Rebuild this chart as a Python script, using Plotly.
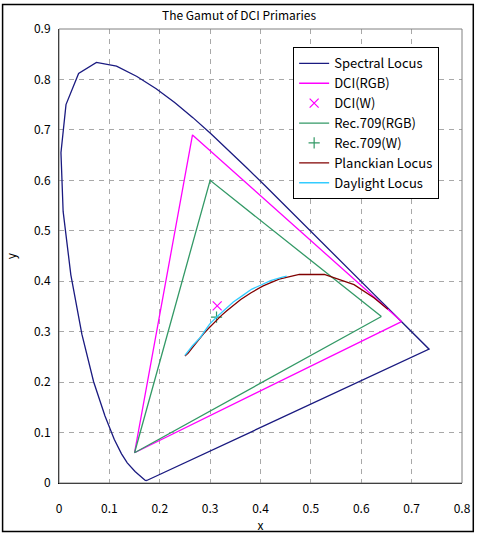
import plotly.graph_objects as go

# ---- Data ----
spectral_x = [0.1741, 0.1740, 0.1738, 0.1736, 0.1733, 0.1730, 0.1726, 0.1721, 0.1714, 0.1703,
              0.1689, 0.1669, 0.1644, 0.1611, 0.1566, 0.1510, 0.1440, 0.1355, 0.1241, 0.1096,
              0.0913, 0.0687, 0.0454, 0.0235, 0.0082, 0.0039, 0.0139, 0.0389, 0.0743, 0.1142,
              0.1547, 0.1929, 0.2296, 0.2658, 0.3016, 0.3373, 0.3731, 0.4087, 0.4441, 0.4788,
              0.5125, 0.5448, 0.5752, 0.6029, 0.6270, 0.6482, 0.6658, 0.6801, 0.6915, 0.7006,
              0.7079, 0.7140, 0.7190, 0.7230, 0.7260, 0.7283, 0.7300, 0.7311, 0.7320, 0.7327,
              0.7334, 0.7340, 0.7344, 0.7346, 0.7347, 0.1741]
spectral_y = [0.0050, 0.0050, 0.0049, 0.0049, 0.0048, 0.0048, 0.0048, 0.0048, 0.0051, 0.0058,
              0.0069, 0.0086, 0.0109, 0.0138, 0.0177, 0.0227, 0.0297, 0.0399, 0.0578, 0.0868,
              0.1327, 0.2007, 0.2950, 0.4127, 0.5384, 0.6548, 0.7502, 0.8120, 0.8338, 0.8262,
              0.8059, 0.7816, 0.7543, 0.7243, 0.6923, 0.6589, 0.6245, 0.5896, 0.5547, 0.5202,
              0.4866, 0.4544, 0.4242, 0.3965, 0.3725, 0.3514, 0.3340, 0.3197, 0.3083, 0.2993,
              0.2920, 0.2859, 0.2809, 0.2770, 0.2740, 0.2717, 0.2700, 0.2689, 0.2680, 0.2673,
              0.2666, 0.2660, 0.2656, 0.2654, 0.2653, 0.0050]

dci_x = [0.680, 0.265, 0.150, 0.680]
dci_y = [0.320, 0.690, 0.060, 0.320]
dci_w_x = [0.314]
dci_w_y = [0.351]

rec709_x = [0.640, 0.300, 0.150, 0.640]
rec709_y = [0.330, 0.600, 0.060, 0.330]
rec709_w_x = [0.3127]
rec709_w_y = [0.3290]

planck_x = [0.2500, 0.2565, 0.2637, 0.2719, 0.2807, 0.2869, 0.2952, 0.3064, 0.3135, 0.3221,
            0.3325, 0.3451, 0.3608, 0.3805, 0.4053, 0.4369, 0.4770, 0.5267, 0.5857, 0.6251, 0.6528]
planck_y = [0.2520, 0.2574, 0.2671, 0.2778, 0.2884, 0.2956, 0.3048, 0.3166, 0.3237, 0.3318,
            0.3411, 0.3516, 0.3636, 0.3768, 0.3907, 0.4041, 0.4137, 0.4133, 0.3931, 0.3674, 0.3444]

daylight_x = [0.250, 0.265, 0.280, 0.299, 0.313, 0.333, 0.346, 0.365, 0.382, 0.400, 0.420, 0.440, 0.452]
daylight_y = [0.253, 0.272, 0.288, 0.315, 0.329, 0.348, 0.359, 0.372, 0.384, 0.392, 0.401, 0.407, 0.410]

x_ticks = [0, 0.1, 0.2, 0.3, 0.4, 0.5, 0.6, 0.7, 0.8]
x_labels = ["0", "0.1", "0.2", "0.3", "0.4", "0.5", "0.6", "0.7", "0.8"]
y_ticks = [0, 0.1, 0.2, 0.3, 0.4, 0.5, 0.6, 0.7, 0.8, 0.9]
y_labels = ["0", "0.1", "0.2", "0.3", "0.4", "0.5", "0.6", "0.7", "0.8", "0.9"]

FONT = "Noto Sans CJK JP, Liberation Sans, sans-serif"
CLEAR = "rgba(0,0,0,0)"

fig = go.Figure()
fig.add_trace(go.Scatter(x=spectral_x, y=spectral_y, mode="lines", name="Spectral Locus",
                         line=dict(color="#1a1a80", width=1.3)))
fig.add_trace(go.Scatter(x=dci_x, y=dci_y, mode="lines", name="DCI(RGB)",
                         line=dict(color="#ff00ff", width=1.3)))
fig.add_trace(go.Scatter(x=dci_w_x, y=dci_w_y, mode="markers", name="DCI(W)",
                         marker=dict(symbol="x-thin", size=9, color="#ff00ff",
                                     line=dict(color="#ff00ff", width=1.2))))
fig.add_trace(go.Scatter(x=rec709_x, y=rec709_y, mode="lines", name="Rec.709(RGB)",
                         line=dict(color="#339966", width=1.3)))
fig.add_trace(go.Scatter(x=rec709_w_x, y=rec709_w_y, mode="markers", name="Rec.709(W)",
                         marker=dict(symbol="cross-thin", size=8, color="#339966",
                                     line=dict(color="#339966", width=1.2))))
fig.add_trace(go.Scatter(x=planck_x, y=planck_y, mode="lines", name="Planckian Locus",
                         line=dict(color="#800000", width=1.3)))
fig.add_trace(go.Scatter(x=daylight_x, y=daylight_y, mode="lines", name="Daylight Locus",
                         line=dict(color="#33ccff", width=1.3)))

fig.update_layout(
    template="none",
    width=478, height=539,
    margin=dict(l=59, r=16, t=29, b=56, autoexpand=False),
    paper_bgcolor="white", plot_bgcolor="white",
    font=dict(family=FONT, size=12, color="black"),
    title=dict(text="The Gamut of DCI Primaries", x=0.5, xref="container", xanchor="center",
               y=1 - 16 / 539, yref="container", yanchor="middle",
               font=dict(family=FONT, size=12, color="black")),
    showlegend=True,
    legend=dict(x=0.581, y=0.9595, xanchor="left", yanchor="top", bgcolor="white",
                bordercolor="black", borderwidth=1, font=dict(family=FONT, size=13),
                itemwidth=30, tracegroupgap=0),
    xaxis=dict(range=[0, 0.8], tickmode="array", tickvals=x_ticks, ticktext=x_labels,
               showgrid=True, gridcolor="#a8a8a8", griddash="5px,5px", gridwidth=1, zeroline=False,
               showline=True, linecolor="black", linewidth=1, ticks="outside", ticklen=15,
               tickcolor=CLEAR, automargin=False,
               title=dict(text="x", standoff=3, font=dict(family=FONT, size=12))),
    xaxis2=dict(range=[0, 0.8], tickmode="array", tickvals=x_ticks, overlaying="x", anchor="y",
                side="bottom", showgrid=False, zeroline=False, showline=False,
                ticks="outside", ticklen=3, tickcolor="black", showticklabels=False,
                automargin=False),
    yaxis=dict(range=[0, 0.9], tickmode="array", tickvals=y_ticks, ticktext=y_labels,
               showgrid=True, gridcolor="#a8a8a8", griddash="5px,5px", gridwidth=1, zeroline=False,
               showline=True, linecolor="black", linewidth=1, ticks="outside", ticklen=5,
               tickcolor=CLEAR, automargin=False,
               title=dict(text="y", standoff=14, font=dict(family=FONT, size=12))),
    shapes=[
        dict(type="rect", xref="paper", yref="paper", x0=0, x1=1, y0=0, y1=1,
             line=dict(color="#808080", width=1), layer="above"),
        dict(type="rect", xref="paper", yref="paper", x0=-0.14, x1=1.028, y0=-0.107, y1=1.054,
             line=dict(color="black", width=1.5), layer="above"),
    ],
)

fig.write_html("out.html")
